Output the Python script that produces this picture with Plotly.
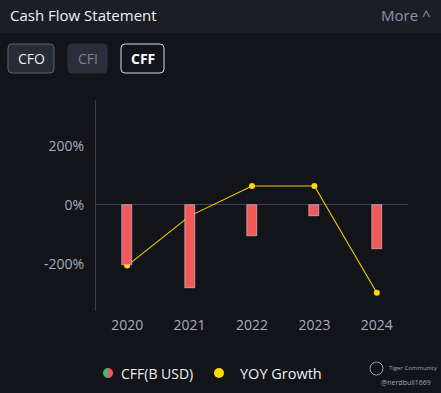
import plotly.graph_objects as go

W, H = 441, 393
years = ["2020", "2021", "2022", "2023", "2024"]
cff_busd = [-2.04, -2.82, -1.05, -0.37, -1.50]
yoy_growth = [-206, -38, 64, 64, -298]
ytick_vals = [-200, 0, 200]
ytick_text = ["-200%", "0%", "200%"]

BG = "#121419"
HEADER = "#1b1e25"
FONT = "Open Sans, Noto Sans, sans-serif"

def px(x):
    return x / W

def py(y):
    return 1 - y / H

def rrect(x0, y0, x1, y1, r):
    rx, ry = r / W, r / H
    X0, X1 = px(x0), px(x1)
    Y0, Y1 = py(y0), py(y1)  # Y0 top, Y1 bottom
    return (f"M{X0+rx},{Y0} L{X1-rx},{Y0} Q{X1},{Y0} {X1},{Y0-ry} "
            f"L{X1},{Y1+ry} Q{X1},{Y1} {X1-rx},{Y1} L{X0+rx},{Y1} "
            f"Q{X0},{Y1} {X0},{Y1+ry} L{X0},{Y0-ry} Q{X0},{Y0} {X0+rx},{Y0} Z")

def half_circle(cx, cy, r, side):
    k = 0.5523 * r
    s = -1 if side == "left" else 1
    pts = [(cx, cy - r), (cx + s * k, cy - r), (cx + s * r, cy - k), (cx + s * r, cy),
           (cx + s * r, cy + k), (cx + s * k, cy + r), (cx, cy + r)]
    P = [(px(a), py(b)) for a, b in pts]
    return (f"M{P[0][0]},{P[0][1]} C{P[1][0]},{P[1][1]} {P[2][0]},{P[2][1]} {P[3][0]},{P[3][1]} "
            f"C{P[4][0]},{P[4][1]} {P[5][0]},{P[5][1]} {P[6][0]},{P[6][1]} Z")

fig = go.Figure()
fig.add_trace(go.Bar(x=years, y=cff_busd, yaxis="y2", marker_color="#f25a5a",
                     width=0.16, name="CFF(B USD)", showlegend=False))
fig.add_trace(go.Scatter(x=years, y=yoy_growth, mode="lines+markers",
                         line=dict(color="#f0d400", width=1.1),
                         marker=dict(color="#ffd800", size=6),
                         name="YOY Growth", showlegend=False))

shapes = [
    dict(type="rect", xref="paper", yref="paper", x0=0, x1=1, y0=py(33), y1=1,
         fillcolor=HEADER, line_width=0, layer="below"),
    dict(type="path", xref="paper", yref="paper", path=rrect(8, 44, 54, 73, 4),
         fillcolor="#262b36", line=dict(color="#5b6272", width=1)),
    dict(type="path", xref="paper", yref="paper", path=rrect(68, 44, 107, 73, 4),
         fillcolor="#2a2f3b", line=dict(color="#2a2f3b", width=1)),
    dict(type="path", xref="paper", yref="paper", path=rrect(121, 44, 164, 73, 4),
         fillcolor=BG, line=dict(color="#d8dae0", width=1)),
    # legend icons
    dict(type="path", xref="paper", yref="paper", path=half_circle(108, 373, 5, "left"),
         fillcolor="#3cb878", line_width=0),
    dict(type="path", xref="paper", yref="paper", path=half_circle(108, 373, 5, "right"),
         fillcolor="#f25a5a", line_width=0),
    dict(type="circle", xref="paper", yref="paper", x0=px(214), x1=px(224),
         y0=py(378), y1=py(368), fillcolor="#ffd800", line_width=0),
    dict(type="circle", xref="paper", yref="paper", x0=px(370), x1=px(383),
         y0=py(375), y1=py(362), fillcolor="rgba(0,0,0,0)",
         line=dict(color="#9a9ea8", width=1)),
]

annotations = [
    dict(text="Cash Flow Statement", x=px(8), y=py(15), xanchor="left", yanchor="middle",
         font=dict(size=15, color="#eef0f4", family=FONT)),
    dict(text="More ^", x=px(433), y=py(15), xanchor="right", yanchor="middle",
         font=dict(size=15, color="#8c91aa", family=FONT)),
    dict(text="CFO", x=px(31), y=py(58.5), xanchor="center", yanchor="middle",
         font=dict(size=14, color="#e8eaf0", family=FONT)),
    dict(text="CFI", x=px(87.5), y=py(58.5), xanchor="center", yanchor="middle",
         font=dict(size=14, color="#7c818d", family=FONT)),
    dict(text="<b>CFF</b>", x=px(142.5), y=py(58.5), xanchor="center", yanchor="middle",
         font=dict(size=14, color="#ffffff", family=FONT)),
    dict(text="CFF(B USD)", x=px(119), y=py(373), xanchor="left", yanchor="middle",
         font=dict(size=14, color="#eef0f4", family=FONT)),
    dict(text="YOY Growth", x=px(238), y=py(373), xanchor="left", yanchor="middle",
         font=dict(size=14.5, color="#eef0f4", family=FONT)),
    dict(text="Tiger Community", x=px(387), y=py(368), xanchor="left", yanchor="middle",
         font=dict(size=6, color="#a0a4ae", family=FONT)),
    dict(text="@nerdbull1669", x=px(433), y=py(382), xanchor="right", yanchor="middle",
         font=dict(size=7, color="#a0a4ae", family=FONT)),
]
for a in annotations:
    a.update(xref="paper", yref="paper", showarrow=False)

fig.update_layout(
    width=W, height=H,
    margin=dict(l=0, r=0, t=0, b=0),
    paper_bgcolor=BG, plot_bgcolor=BG,
    font=dict(family=FONT, color="#a8acbf", size=14),
    showlegend=False,
    shapes=shapes, annotations=annotations,
    bargap=0,
    xaxis=dict(domain=[px(96), px(408)], showgrid=False, showline=False, zeroline=False,
               ticks="", tickfont=dict(size=14, color="#a8acbf"), ticklabelstandoff=4,
               fixedrange=True),
    yaxis=dict(domain=[py(311), py(100)], range=[-360, 356], tickvals=ytick_vals,
               ticktext=ytick_text, showgrid=False, showline=True, linecolor="#3a3e48",
               linewidth=1, zeroline=True, zerolinecolor="#40455a", zerolinewidth=1,
               ticks="", tickfont=dict(size=14, color="#a8acbf"), ticklabelstandoff=8),
    yaxis2=dict(overlaying="y", range=[-3.60, 3.56], visible=False, showgrid=False,
                zeroline=False),
)

fig.write_html("out.html", config={"displayModeBar": False},
               post_script="document.body.style.margin='0';document.body.style.background='#121419';")
